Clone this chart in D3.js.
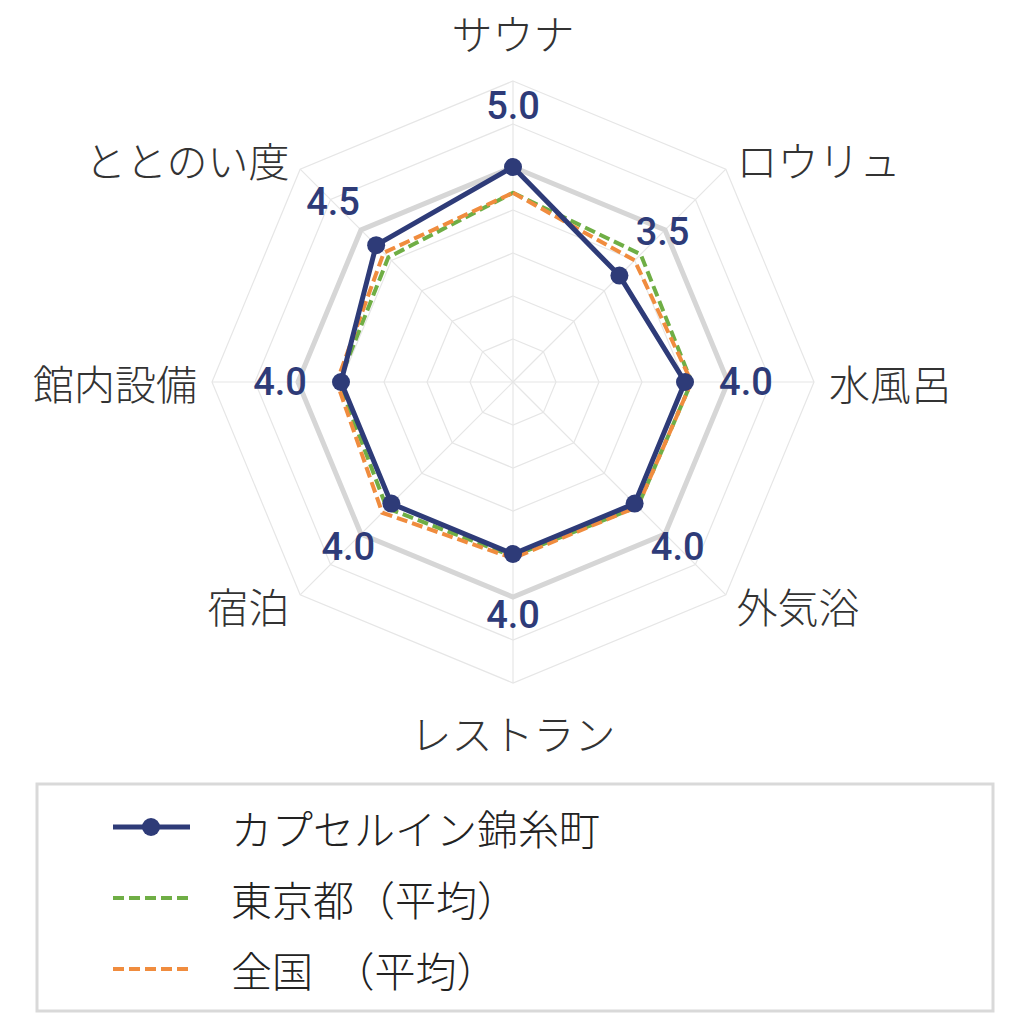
<!DOCTYPE html>
<html>
<head>
<meta charset="utf-8">
<script src="https://cdn.jsdelivr.net/npm/d3@7"></script>
<style>
  html, body { margin: 0; padding: 0; background: #fff; }
  svg { display: block; }
</style>
</head>
<body>
<div id="chart"></div>
<script>
// chart data
const categories = ['サウナ','ロウリュ','水風呂','外気浴','レストラン','宿泊','館内設備','ととのい度'];
const facilityValues = [5.0, 3.5, 4.0, 4.0, 4.0, 4.0, 4.0, 4.5];
const tokyoValues = [4.4, 4.2, 4.15, 4.1, 4.05, 4.15, 4.05, 4.1];
const nationalValues = [4.4, 4.0, 4.15, 4.1, 4.1, 4.3, 4.1, 4.25];
const seriesNames = ['カプセルイン錦糸町','東京都（平均）','全国　（平均）'];
const gridLevels = [1,2,3,4,5,6,7];
const maxLevel = 7;
const fullScore = 5;

const width = 1024;
const height = 1024;
const cx = 513;
const cy = 382;
const radius = 301;

const navy = '#2e3b78';
const green = '#6fae45';
const orange = '#f08c3e';

const svg = d3.select('#chart')
    .append('svg')
    .attr('width', width)
    .attr('height', height);

const plot = svg.append('g')
    .attr('transform', `translate(${cx},${cy})`);

// radial scales
const r = d3.scaleLinear().domain([0, maxLevel]).range([0, radius]);
const angle = d3.scalePoint()
    .domain(d3.range(categories.length + 1))
    .range([0, 2 * Math.PI]);

const ang = i => angle(i);
const px = (i, rr) => rr * Math.sin(ang(i));
const py = (i, rr) => -rr * Math.cos(ang(i));

const ringLine = d3.lineRadial()
    .angle((d, i) => ang(i))
    .radius(d => r(d))
    .curve(d3.curveLinearClosed);

// grid rings
plot.selectAll('.ring')
    .data(gridLevels)
    .join('path')
    .attr('class', 'ring')
    .attr('d', lvl => ringLine(categories.map(() => lvl)))
    .attr('fill', 'none')
    .attr('stroke', '#e6e6e6')
    .attr('stroke-width', 1.2);

// spokes
plot.selectAll('.spoke')
    .data(categories)
    .join('line')
    .attr('class', 'spoke')
    .attr('x1', 0).attr('y1', 0)
    .attr('x2', (d, i) => px(i, r(maxLevel)))
    .attr('y2', (d, i) => py(i, r(maxLevel)))
    .attr('stroke', '#e6e6e6')
    .attr('stroke-width', 1.2);

// full score ring
plot.append('path')
    .attr('d', ringLine(categories.map(() => fullScore)))
    .attr('fill', 'none')
    .attr('stroke', '#d6d6d6')
    .attr('stroke-width', 5)
    .attr('stroke-linejoin', 'miter');

// series
const series = [
    {name: seriesNames[1], values: tokyoValues, color: green, dash: '11,5', width: 4},
    {name: seriesNames[2], values: nationalValues, color: orange, dash: '11,5', width: 4},
    {name: seriesNames[0], values: facilityValues, color: navy, dash: null, width: 5}
];

plot.selectAll('.series')
    .data(series)
    .join('path')
    .attr('class', 'series')
    .attr('d', d => ringLine(d.values))
    .attr('fill', 'none')
    .attr('stroke', d => d.color)
    .attr('stroke-width', d => d.width)
    .attr('stroke-dasharray', d => d.dash)
    .attr('stroke-linejoin', 'round');

plot.selectAll('.dot')
    .data(facilityValues)
    .join('circle')
    .attr('class', 'dot')
    .attr('cx', (d, i) => px(i, r(d)))
    .attr('cy', (d, i) => py(i, r(d)))
    .attr('r', 9)
    .attr('fill', navy);

// value labels
plot.selectAll('.val')
    .data(facilityValues)
    .join('text')
    .attr('class', 'val')
    .attr('x', (d, i) => px(i, r(d) + 61))
    .attr('y', (d, i) => py(i, r(d) + 61))
    .attr('text-anchor', 'middle')
    .attr('dominant-baseline', 'central')
    .attr('font-family', 'Roboto, "Liberation Sans", sans-serif')
    .attr('font-weight', 500)
    .attr('font-size', 38)
    .attr('fill', navy)
    .text(d => d.toFixed(1));

// category labels
const labelR = 316;
plot.selectAll('.cat')
    .data(categories)
    .join('text')
    .attr('class', 'cat')
    .attr('x', (d, i) => px(i, labelR))
    .attr('y', (d, i) => {
        const c = Math.cos(ang(i));
        const shift = Math.abs(c) > 0.99 ? -c * 34 : 0;
        return py(i, labelR) + shift;
    })
    .attr('text-anchor', (d, i) => {
        const s = Math.sin(ang(i));
        return s > 0.01 ? 'start' : (s < -0.01 ? 'end' : 'middle');
    })
    .attr('dominant-baseline', 'central')
    .attr('font-family', '"Noto Sans CJK JP", sans-serif')
    .attr('font-weight', 300)
    .attr('font-size', 41)
    .attr('fill', '#333')
    .text(d => d);

// legend
const legend = svg.append('g');
legend.append('rect')
    .attr('x', 37).attr('y', 784)
    .attr('width', 956).attr('height', 227)
    .attr('fill', '#fff')
    .attr('stroke', '#d9d9d9')
    .attr('stroke-width', 3);

const legendRows = [series[2], series[0], series[1]];
const rowY = d3.scalePoint().domain(d3.range(legendRows.length)).range([827, 969]);

const item = legend.selectAll('.item')
    .data(legendRows)
    .join('g')
    .attr('class', 'item')
    .attr('transform', (d, i) => `translate(0,${rowY(i)})`);

item.append('line')
    .attr('x1', 113).attr('x2', 190)
    .attr('y1', 0).attr('y2', 0)
    .attr('stroke', d => d.color)
    .attr('stroke-width', d => d.width)
    .attr('stroke-dasharray', d => d.dash);

item.filter(d => !d.dash)
    .append('circle')
    .attr('cx', 151).attr('cy', 0)
    .attr('r', 9)
    .attr('fill', d => d.color);

item.append('text')
    .attr('x', 231).attr('y', 0)
    .attr('dominant-baseline', 'central')
    .attr('font-family', '"Noto Sans CJK JP", sans-serif')
    .attr('font-weight', 300)
    .attr('font-size', 41)
    .attr('fill', '#222')
    .text(d => d.name);
</script>
</body>
</html>
